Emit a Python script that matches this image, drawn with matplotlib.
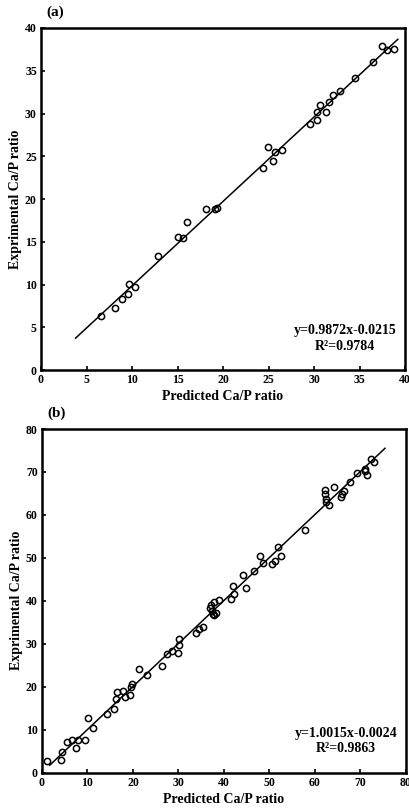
import matplotlib
matplotlib.use("Agg")
import matplotlib.pyplot as plt
import numpy as np

plt.rcParams["font.family"] = ["Liberation Serif", "DejaVu Serif"]
plt.rcParams["font.weight"] = "bold"

# (a) predicted vs experimental Ca/P ratio
pred_a = [6.6, 8.1, 8.9, 9.6, 9.7, 10.3, 12.8, 15.0, 15.6, 16.0, 18.1, 19.1, 19.3,
          24.4, 24.9, 25.5, 25.7, 26.5, 29.6, 30.3, 30.3, 30.6, 31.3, 31.6, 32.1,
          32.9, 34.5, 36.5, 37.5, 38.0, 38.8]
exp_a = [6.35, 7.25, 8.3, 8.9, 10.1, 9.7, 13.3, 15.6, 15.4, 17.3, 18.8, 18.8, 18.95,
         23.6, 26.1, 24.5, 25.5, 25.7, 28.8, 29.2, 30.2, 31.0, 30.2, 31.3, 32.2,
         32.6, 34.1, 36.0, 37.9, 37.4, 37.6]
slope_a, icpt_a, r2_a = 0.9872, -0.0215, 0.9784
fit_range_a = (3.8, 39.2)

# (b)
pred_b = [1.2, 4.2, 4.4, 5.5, 6.7, 7.5, 8.0, 9.5, 10.2, 11.2, 14.2, 15.9, 16.2,
          16.5, 17.8, 18.2, 19.3, 19.6, 19.8, 21.4, 23.1, 26.4, 27.5, 28.5, 29.9,
          30.2, 30.2, 33.9, 34.6, 35.3, 37.0, 37.2, 37.4, 37.5, 37.9, 37.9, 38.3,
          39.0, 41.6, 42.3, 41.9, 44.1, 44.8, 46.6, 48.0, 48.5, 50.5, 51.3, 51.8,
          52.6, 57.8, 62.2, 62.2, 62.4, 62.5, 63.1, 64.2, 65.7, 66.0, 66.4, 67.8,
          69.3, 71.0, 71.1, 71.5, 72.3, 73.0]
exp_b = [2.7, 3.0, 4.8, 7.2, 7.5, 5.6, 7.6, 7.6, 12.6, 10.3, 13.6, 14.8, 17.1,
         18.8, 19.0, 17.6, 18.0, 19.8, 20.6, 24.1, 22.7, 24.8, 27.5, 28.3, 27.9,
         29.7, 31.1, 32.4, 33.4, 33.9, 38.2, 39.0, 37.6, 37.0, 39.7, 36.6, 37.2,
         40.1, 40.3, 41.5, 43.5, 46.0, 43.0, 46.9, 50.5, 48.9, 48.5, 49.2, 52.5,
         50.4, 56.4, 65.7, 64.8, 63.8, 63.0, 62.4, 66.5, 64.1, 64.9, 65.5, 67.6,
         69.7, 70.6, 70.2, 69.2, 73.1, 72.3]
slope_b, icpt_b, r2_b = 1.0015, -0.0024, 0.9863
fit_range_b = (1.7, 75.4)

fig = plt.figure(figsize=(4.1, 8.09), dpi=100)
ax_a = fig.add_axes([0.100, 0.5426, 0.888, 0.4228])
ax_b = fig.add_axes([0.1024, 0.0451, 0.8876, 0.4246])


def draw_panel(ax, pred, exp, slope, icpt, r2, fit_range, lim, step, tag):
    x_fit = np.array(fit_range)
    ax.plot(x_fit, slope * x_fit + icpt, color="black", lw=1.1)
    ax.plot(pred, exp, "o", mfc="none", mec="black", ms=4.5, mew=1.1)
    ax.set_xlim(0, lim)
    ax.set_ylim(0, lim)
    ticks = np.arange(0, lim + 1, step)
    ax.set_xticks(ticks)
    ax.set_yticks(ticks)
    ax.tick_params(direction="in", length=3, width=1.2, labelsize=8.5, pad=3)
    for lab in ax.get_xticklabels() + ax.get_yticklabels():
        lab.set_fontweight("bold")
    for sp in ax.spines.values():
        sp.set_linewidth(1.8)
    ax.set_xlabel("Predicted Ca/P ratio", fontsize=10, fontweight="bold", labelpad=3)
    ax.set_ylabel("Exprimental Ca/P ratio", fontsize=10, fontweight="bold", labelpad=2)
    ax.text(0.835, 0.115, f"y={slope:.4f}x{icpt:.4f}", transform=ax.transAxes,
            ha="center", va="center", fontsize=10, fontweight="bold")
    ax.text(0.835, 0.07, f"R\u00b2={r2:.4f}", transform=ax.transAxes,
            ha="center", va="center", fontsize=10, fontweight="bold")
    ax.text(0.015, 1.045, tag, transform=ax.transAxes, ha="left", va="center",
            fontsize=11, fontweight="bold")


draw_panel(ax_a, pred_a, exp_a, slope_a, icpt_a, r2_a, fit_range_a, 40, 5, "(a)")
draw_panel(ax_b, pred_b, exp_b, slope_b, icpt_b, r2_b, fit_range_b, 80, 10, "(b)")

fig.savefig("out.png", dpi=100)
